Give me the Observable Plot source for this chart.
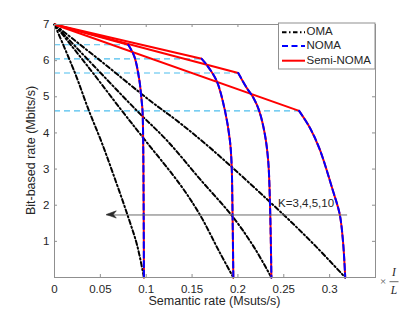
<!DOCTYPE html>
<html><head><meta charset="utf-8">
<script src="https://cdn.jsdelivr.net/npm/d3@7"></script>
<script src="https://cdn.jsdelivr.net/npm/@observablehq/plot@0.6"></script>
<style>body{margin:0;background:#fff} #chart{width:415px;height:312px}</style>
</head><body><div id="chart"></div>
<script>
// ---- data ----
const xTicks = [0, 0.05, 0.1, 0.15, 0.2, 0.25, 0.3];
const yTicks = [1, 2, 3, 4, 5, 6, 7];
const xDomain = [0, 0.35];
const yDomain = [0, 7];
const kValues = [3, 4, 5, 10];
const origin = [0, 7];
const seriesNames = ["OMA", "NOMA", "Semi-NOMA"];
const kLabel = "K=3,4,5,10";
const labelPos = [0.2438, 2.06];
const arrowX = [0.3196, 0.057];
const arrowY = 1.73;

const omaK3  = [[0,7],[0.022,5.68],[0.037,4.65],[0.052,3.7],[0.067,2.65],[0.080,1.7],[0.090,0.9],[0.0975,0]];
const omaK4  = [[0,7],[0.037,5.82],[0.0736,4.61],[0.1,3.76],[0.137,2.57],[0.1587,1.73],[0.18,0.7],[0.195,0]];
const omaK5  = [[0,7],[0.045,5.8],[0.09,4.61],[0.123,3.78],[0.1587,2.72],[0.195,1.66],[0.218,0.82],[0.2365,0]];
const omaK10 = [[0,7],[0.05,6.0],[0.1043,4.89],[0.137,4.27],[0.1732,3.51],[0.2492,1.75],[0.285,0.86],[0.317,0]];

const nomaK3  = [[0.0804,6.44],[0.087,6.12],[0.0924,5.48],[0.0949,4.92],[0.096,4.6],[0.0968,3.5],[0.0972,2],[0.0975,0]];
const nomaK4  = [[0.1605,6.05],[0.166,5.88],[0.1768,5.44],[0.1859,4.61],[0.1913,3.78],[0.1931,3.14],[0.194,2.0],[0.195,0]];
const nomaK5  = [[0.2003,5.66],[0.2095,5.25],[0.2167,4.98],[0.2232,4.61],[0.2293,3.97],[0.233,3.23],[0.235,2.0],[0.2365,0]];
const nomaK10 = [[0.2667,4.61],[0.2783,4.15],[0.2891,3.55],[0.3036,2.40],[0.3109,1.76],[0.3145,1.02],[0.317,0]];

// ---- tables ----
const omaCurves = [omaK3, omaK4, omaK5, omaK10];
const nomaCurves = [nomaK3, nomaK4, nomaK5, nomaK10];
const toRows = curves => curves.flatMap((c, i) => c.map(([x, y]) => ({k: kValues[i], x, y})));
const omaRows = toRows(omaCurves);
const nomaRows = toRows(nomaCurves);
const corners = nomaCurves.map((c, i) => ({k: kValues[i], x: c[0][0], y: c[0][1]}));

const W = 415, H = 312, mL = 54, mR = 40, mT = 24, mB = 35;
const fw = W - mL - mR, fh = H - mT - mB;
const font = "'Liberation Sans', Arial, Helvetica, sans-serif";
const txt = "#262626", boxC = "#8f8f8f";
const omaDash = "4.5,2.5,1.5,2.5", nomaDash = "6,3.5";

const chart = Plot.plot({
  width: W, height: H,
  marginLeft: mL, marginRight: mR, marginTop: mT, marginBottom: mB,
  x: {domain: xDomain},
  y: {domain: yDomain},
  style: {fontFamily: font, fontSize: "11.5px", background: "#fff", color: txt},
  marks: [
    Plot.ruleY(corners, {y: "y", x1: origin[0], x2: "x", stroke: "#4DBEEE", strokeWidth: 1.1, strokeDasharray: "6,4"}),
    Plot.line(omaRows, {x: "x", y: "y", z: "k", stroke: "black", strokeWidth: 2, strokeDasharray: omaDash, curve: "catmull-rom"}),
    Plot.link(corners, {x1: origin[0], y1: origin[1], x2: "x", y2: "y", stroke: "#ff0000", strokeWidth: 2}),
    Plot.line(nomaRows, {x: "x", y: "y", z: "k", stroke: "#ff0000", strokeWidth: 2, curve: "catmull-rom"}),
    Plot.line(nomaRows, {x: "x", y: "y", z: "k", stroke: "#0000ff", strokeWidth: 2, strokeDasharray: nomaDash, curve: "catmull-rom"}),
    Plot.ruleY([arrowY], {y: d => d, x1: arrowX[0], x2: arrowX[1], stroke: "#6b6b6b", strokeWidth: 1}),
    Plot.text([kLabel], {x: labelPos[0], y: labelPos[1], text: d => d, textAnchor: "start", fill: txt, fontSize: 11.5}),
    Plot.tickX(xTicks, {x: d => d, insetTop: fh - 3, stroke: boxC}),
    Plot.tickX(xTicks, {x: d => d, insetBottom: fh - 3, stroke: boxC}),
    Plot.tickY(yTicks, {y: d => d, insetRight: fw - 3, stroke: boxC}),
    Plot.tickY(yTicks, {y: d => d, insetLeft: fw - 3, stroke: boxC}),
    Plot.axisX(xTicks, {tickSize: 0, tickPadding: 7, tickFormat: d => String(d), label: null, fill: txt}),
    Plot.axisY(yTicks, {tickSize: 0, tickPadding: 5, tickFormat: d => String(d), label: null, fill: txt}),
    Plot.frame({stroke: boxC, strokeWidth: 1})
  ]
});
document.getElementById("chart").appendChild(chart);

const svg = d3.select(chart);
const sx = chart.scale("x"), sy = chart.scale("y");
const px = v => sx.apply ? sx.apply(v) : mL + (v - xDomain[0]) / (xDomain[1] - xDomain[0]) * fw;
const py = v => sy.apply ? sy.apply(v) : mT + (1 - (v - yDomain[0]) / (yDomain[1] - yDomain[0])) * fh;

// arrowhead
{
  const tx = px(arrowX[1]), ty = py(arrowY);
  svg.append("path")
    .attr("d", `M${tx},${ty} L${tx + 10},${ty - 3.6} L${tx + 7},${ty} L${tx + 10},${ty + 3.6} Z`)
    .attr("fill", "#2a2a2a").attr("stroke", "#2a2a2a").attr("stroke-width", 0.6);
}

// axis titles
svg.append("text").attr("x", mL + fw / 2).attr("y", 302).attr("text-anchor", "middle")
  .attr("dominant-baseline", "middle").attr("font-family", font).attr("font-size", 12.5).attr("fill", txt)
  .text("Semantic rate (Msuts/s)");
svg.append("text").attr("transform", `translate(32,${mT + fh / 2}) rotate(-90)`).attr("text-anchor", "middle")
  .attr("dominant-baseline", "middle").attr("font-family", font).attr("font-size", 12.5).attr("fill", txt)
  .text("Bit-based rate (Mbits/s)");

// ×I/L
const serif = "'Liberation Serif', 'DejaVu Serif', serif";
svg.append("text").attr("x", 383).attr("y", 282).attr("text-anchor", "middle").attr("dominant-baseline", "middle")
  .attr("font-family", serif).attr("font-size", 11).attr("fill", "#555").text("×");
svg.append("text").attr("x", 394).attr("y", 273).attr("text-anchor", "middle").attr("dominant-baseline", "middle")
  .attr("font-family", serif).attr("font-style", "italic").attr("font-size", 11.5).attr("fill", txt).text("I");
svg.append("line").attr("x1", 389.5).attr("x2", 398.5).attr("y1", 281.7).attr("y2", 281.7).attr("stroke", txt).attr("stroke-width", 0.7);
svg.append("text").attr("x", 394).attr("y", 291).attr("text-anchor", "middle").attr("dominant-baseline", "middle")
  .attr("font-family", serif).attr("font-style", "italic").attr("font-size", 11.5).attr("fill", txt).text("L");

// legend
{
  const lg = svg.append("g");
  lg.append("rect").attr("x", 278.5).attr("y", 23).attr("width", 96.5).attr("height", 46)
    .attr("fill", "#fff").attr("stroke", boxC).attr("stroke-width", 1);
  const ys = [32.3, 46, 60.7];
  const styles = [
    {stroke: "black", dash: omaDash},
    {stroke: "#0000ff", dash: nomaDash},
    {stroke: "#ff0000", dash: null}
  ];
  seriesNames.forEach((name, i) => {
    const l = lg.append("line").attr("x1", 282).attr("x2", 305).attr("y1", ys[i]).attr("y2", ys[i])
      .attr("stroke", styles[i].stroke).attr("stroke-width", 2);
    if (styles[i].dash) l.attr("stroke-dasharray", styles[i].dash);
    lg.append("text").attr("x", 306.5).attr("y", ys[i]).attr("text-anchor", "start").attr("dominant-baseline", "middle")
      .attr("font-family", font).attr("font-size", 11.5).attr("fill", txt).text(name);
  });
}
</script></body></html>
